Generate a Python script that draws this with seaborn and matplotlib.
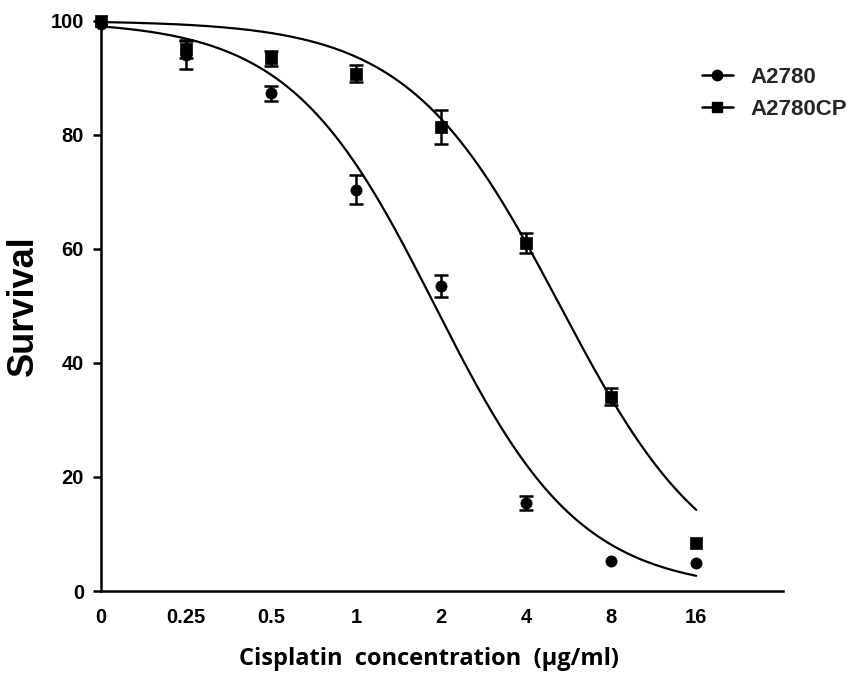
import numpy as np
import pandas as pd
import matplotlib
matplotlib.use("Agg")
import matplotlib.pyplot as plt
from matplotlib.lines import Line2D
import seaborn as sns

# ---- data ----
conc_labels = ["0", "0.25", "0.5", "1", "2", "4", "8", "16"]
a2780_mean = [99.5, 94.0, 87.3, 70.4, 53.5, 15.4, 5.3, 5.0]
a2780_err = [0.0, 2.5, 1.3, 2.5, 1.9, 1.2, 0.0, 0.0]
a2780cp_mean = [100.0, 95.0, 93.4, 90.7, 81.3, 61.0, 34.1, 8.4]
a2780cp_err = [0.0, 1.6, 1.3, 1.5, 3.0, 1.8, 1.5, 0.0]

# fitted dose-response (sigmoid) parameters
fit_top = [100.0, 100.0]
fit_bottom = [0.0, 0.0]
fit_ic50 = [1.905, 5.28]     # ug/ml
fit_hill = [1.69, 1.62]
lowest_conc = 0.125          # "0" is plotted one doubling below 0.25

series = ["A2780", "A2780CP"]
markers = ["o", "s"]

sns.set_theme(style="white")
plt.rcParams["font.family"] = ["Liberation Sans", "DejaVu Sans"]
plt.rcParams["font.weight"] = "bold"

fig = plt.figure(figsize=(8.65, 6.73), dpi=100)
ax = fig.add_axes([0.1164, 0.1218, 0.7888, 0.8474])

pos = np.arange(len(conc_labels))

# fitted curves
curve_rows = []
p_grid = np.linspace(0, len(conc_labels) - 1, 300)
for name, top, bot, ic50, h in zip(series, fit_top, fit_bottom, fit_ic50, fit_hill):
    p50 = np.log2(ic50 / lowest_conc)
    yv = bot + (top - bot) / (1 + 2 ** (h * (p_grid - p50)))
    curve_rows.append(pd.DataFrame({"pos": p_grid, "survival": yv, "line": name}))
curves = pd.concat(curve_rows, ignore_index=True)
sns.lineplot(data=curves, x="pos", y="survival", hue="line",
             palette=["black", "black"], linewidth=1.6, legend=False, ax=ax)

# data points with error bars
pts = pd.DataFrame({
    "pos": np.concatenate([pos, pos]),
    "survival": a2780_mean + a2780cp_mean,
    "err": a2780_err + a2780cp_err,
    "line": ["A2780"] * len(pos) + ["A2780CP"] * len(pos),
})
for name, mk in zip(series, markers):
    sub = pts[pts["line"] == name]
    e = sub["err"].to_numpy()
    ax.errorbar(sub["pos"], sub["survival"], yerr=np.where(e > 0, e, np.nan),
                fmt="none", ecolor="black", elinewidth=1.8, capsize=5,
                capthick=1.8, clip_on=False, zorder=3)
    sns.scatterplot(data=sub, x="pos", y="survival", marker=mk, s=65,
                    color="black", edgecolor="black", linewidth=0.5,
                    legend=False, ax=ax, clip_on=False, zorder=4)

ax.set_xlim(0, 8.02)
ax.set_ylim(0, 100)
ax.set_xticks(pos)
ax.set_xticklabels(conc_labels)
ax.set_xticks([0], minor=True)
ax.set_yticks([0, 20, 40, 60, 80, 100])

for s in ["top", "right"]:
    ax.spines[s].set_visible(False)
for s in ["left", "bottom"]:
    ax.spines[s].set_linewidth(1.8)
    ax.spines[s].set_color("black")

ax.tick_params(axis="y", which="major", direction="out", length=6, width=1.8,
               color="black", pad=6, labelsize=14.5, left=True)
ax.tick_params(axis="x", which="major", length=0, pad=12, labelsize=14.5)
ax.tick_params(axis="x", which="minor", direction="out", length=6, width=1.8,
               color="black", bottom=True)
for lab in ax.get_xticklabels() + ax.get_yticklabels():
    lab.set_fontweight("bold")
    lab.set_color("black")

ax.set_xlabel("Cisplatin  concentration  (\u03bcg/ml)", fontsize=17,
              fontweight="bold", family=["Open Sans", "DejaVu Sans"], color="black")
ax.xaxis.set_label_coords(0.481, -0.099)
ax.set_ylabel("Survival", fontsize=26, fontweight="bold", color="black")
ax.yaxis.set_label_coords(-0.088, 0.5)

handles = [Line2D([0], [0], color="black", lw=1.8, marker=m, markersize=7.5)
           for m in markers]
fig.legend(handles, series, loc="upper left", bbox_to_anchor=(0.788, 0.93),
           frameon=False, handlelength=1.4, handletextpad=0.8,
           labelspacing=0.5, prop={"weight": "bold", "size": 16})

fig.savefig("out.png", dpi=100, facecolor="white")
